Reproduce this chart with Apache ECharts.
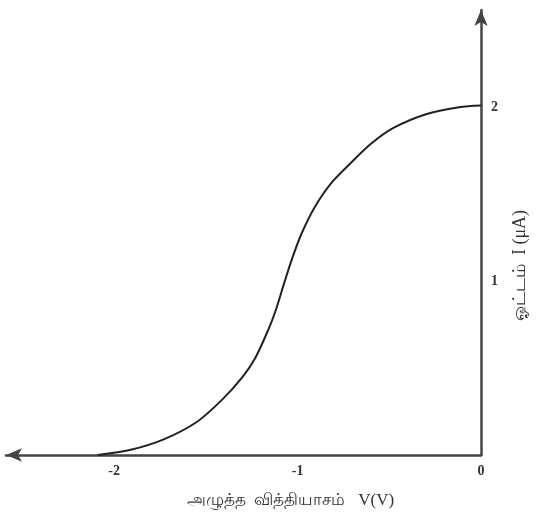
<!DOCTYPE html>
<html>
<head>
<meta charset="utf-8">
<script src="https://cdn.jsdelivr.net/npm/echarts@6/dist/echarts.min.js"></script>
<style>
html,body{margin:0;padding:0;background:#fff;}
#chart{width:537px;height:521px;}
</style>
</head>
<body>
<div id="chart"></div>
<script>
var voltage = [-2.09, -1.91, -1.73, -1.55, -1.41, -1.3, -1.23, -1.16, -1.12, -1.07, -1.03, -0.98, -0.91, -0.82, -0.71, -0.6, -0.48, -0.3, -0.12, 0];
var current = [0, 0.03, 0.09, 0.19, 0.32, 0.45, 0.56, 0.72, 0.83, 1.0, 1.13, 1.27, 1.42, 1.56, 1.68, 1.79, 1.88, 1.96, 2.0, 2.01];
var xTicks = [-2, -1, 0];
var yTicks = [1, 2];
var xName = 'அழுத்த  வித்தியாசம்   V(V)';
var yName = 'ஓட்டம்  I (μA)';

var points = voltage.map(function (v, i) { return [v, current[i]]; });
var chart = echarts.init(document.getElementById('chart'));
chart.setOption({
  animation: false,
  backgroundColor: '#ffffff',
  grid: { left: 6, right: 48, top: 10, bottom: 66 },
  xAxis: {
    type: 'value',
    min: -2.59,
    max: 0,
    splitLine: { show: false },
    axisTick: { show: false },
    axisLine: {
      onZero: false,
      symbol: ['arrow', 'none'],
      symbolSize: [10, 16],
      lineStyle: { color: '#444', width: 2.5 }
    },
    axisLabel: {
      customValues: xTicks,
      margin: 9,
      fontFamily: 'Liberation Serif',
      fontWeight: 'bold',
      fontSize: 14,
      color: '#333',
      formatter: function (v) { return String(v); }
    },
    name: xName,
    nameLocation: 'middle',
    nameGap: 37,
    nameTextStyle: { fontFamily: 'Liberation Serif, Noto Sans', fontSize: 17, color: '#333', padding: [0, 0, 0, 94] }
  },
  yAxis: {
    type: 'value',
    position: 'right',
    min: 0,
    max: 2.56,
    splitLine: { show: false },
    axisTick: { show: false },
    axisLine: {
      onZero: false,
      symbol: ['none', 'arrow'],
      symbolSize: [10, 16],
      lineStyle: { color: '#444', width: 2.5 }
    },
    axisLabel: {
      customValues: yTicks,
      margin: 10,
      fontFamily: 'Liberation Serif',
      fontWeight: 'bold',
      fontSize: 14,
      color: '#333'
    },
    name: yName,
    nameLocation: 'middle',
    nameRotate: 90,
    nameGap: 30,
    nameTextStyle: { fontFamily: 'Liberation Serif, Noto Sans', fontSize: 18, color: '#333', padding: [0, 66, 0, 0] }
  },
  series: [{
    type: 'line',
    data: points,
    smooth: 0.3,
    showSymbol: false,
    lineStyle: { color: '#222', width: 2 }
  }]
});
</script>
</body>
</html>
